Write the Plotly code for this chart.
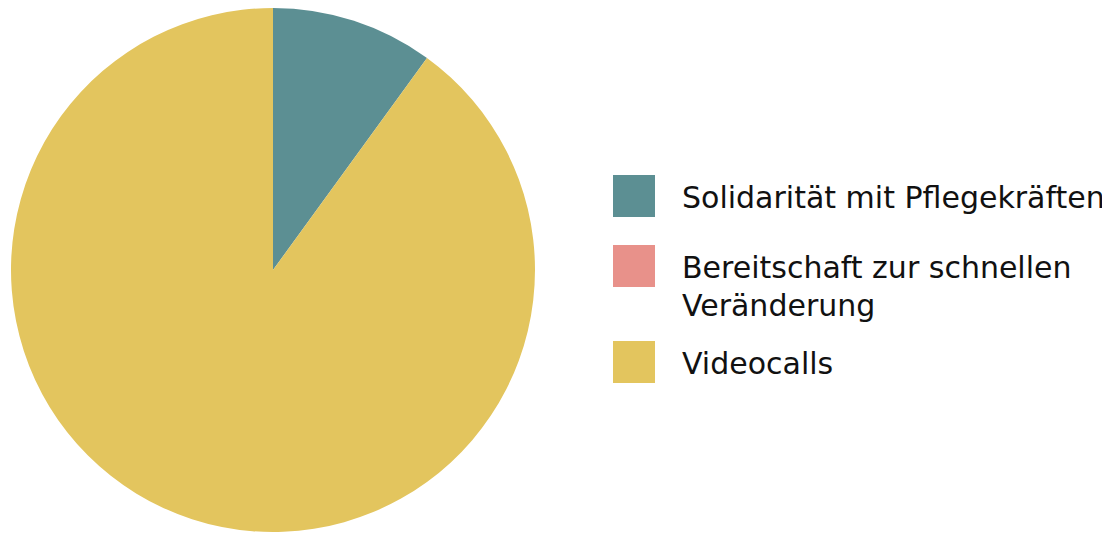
import plotly.graph_objects as go

labels = ["Solidarität mit Pflegekräften", "Bereitschaft zur schnellen Veränderung", "Videocalls"]
legend_lines = [["Solidarität mit Pflegekräften"], ["Bereitschaft zur schnellen", "Veränderung"], ["Videocalls"]]
values = [10, 0, 90]
colors = ["#5C8F93", "#E8918A", "#E3C55E"]

W, H = 1102, 527   # page has 8px body margin
FONT = "DejaVu Sans"

fig = go.Figure(go.Pie(
    labels=labels, values=values, sort=False, direction="clockwise", rotation=0,
    marker=dict(colors=colors, line=dict(width=0)),
    textinfo="none", hoverinfo="label+percent",
    domain=dict(x=[3 / W, 527 / W], y=[3 / H, 1]),
    showlegend=False,
))

# custom legend (large square swatches), positions in figure pixels
sq_top = [167, 237, 333]
sq_left = 605
sq_size = 42
text_x = 672
line_gap = 38
shapes, annos = [], []
for i, (lines, c) in enumerate(zip(legend_lines, colors)):
    t = sq_top[i]
    shapes.append(dict(type="rect", xref="paper", yref="paper",
                       x0=sq_left / W, x1=(sq_left + sq_size) / W,
                       y0=1 - (t + sq_size) / H, y1=1 - t / H,
                       fillcolor=c, line=dict(width=0)))
    for j, txt in enumerate(lines):
        yc = t + sq_size / 2 + 1 + j * line_gap
        annos.append(dict(text=txt, xref="paper", yref="paper", x=text_x / W, y=1 - yc / H,
                          xanchor="left", yanchor="middle", showarrow=False,
                          font=dict(family=FONT, size=30, color="#111111")))

fig.update_layout(
    width=W, height=H, margin=dict(l=0, r=0, t=0, b=0),
    paper_bgcolor="white", plot_bgcolor="white",
    shapes=shapes, annotations=annos,
    font=dict(family=FONT),
)
fig.write_html("out.html")
